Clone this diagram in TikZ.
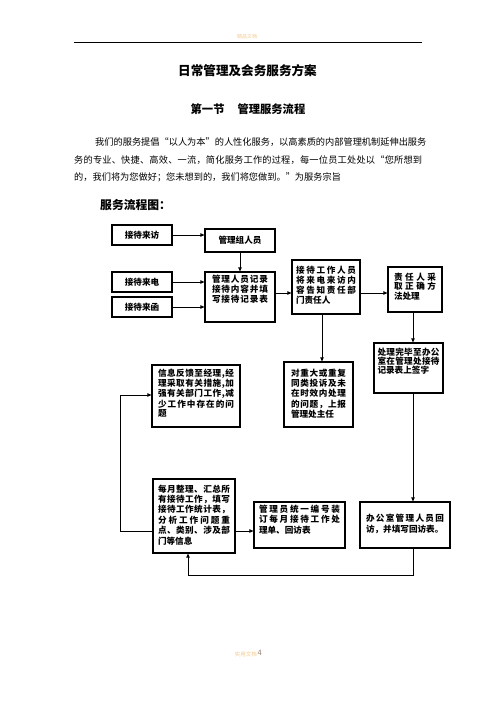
\documentclass[tikz,border=0pt]{standalone}
\usepackage{fontspec}
\setmainfont{Noto Sans CJK SC}
\usetikzlibrary{arrows.meta}
\definecolor{hdr}{RGB}{245,200,140}
\definecolor{pgnum}{RGB}{150,130,110}
\def\jlx#1{#1\futurelet\jlnext\jly}
\def\jly{\ifx\jlnext\relax\expandafter\jlz\else\hfill\expandafter\jlx\fi}
\def\jlz\relax{}
\newcommand{\jl}[1]{\makebox[\linewidth][s]{\jlx#1\relax}}
\newcommand{\jw}[2]{\makebox[#1][s]{\jlx#2\relax}}
\newcommand{\bxt}[5]{\parbox[c][#1][t]{#2}{\vspace*{#3}\fontsize{8.6pt}{#4}\selectfont #5}}
\tikzset{
  box/.style={draw, line width=1.2pt, inner sep=0pt, font=\bfseries\fontsize{8.6pt}{10pt}\selectfont, align=center},
  conn/.style={line width=0.8pt, -{Triangle[length=4pt,width=3.5pt]}},
  para/.style={inner sep=0pt, anchor=west, font=\fontsize{9.2pt}{11pt}\selectfont}
}
\begin{document}
\begin{tikzpicture}[x=1pt,y=-1pt]
\useasboundingbox (0,0) rectangle (496,702);
% header
\node[inner sep=0pt, font=\fontsize{5pt}{6pt}\selectfont, text=hdr] (hd) at (247,37) {精品文档};
\coordinate (hl1) at (74,42);
\coordinate (hl2) at (422,42);
\draw[line width=0.8pt] (hl1) -- (hl2);
% titles
\node[inner sep=0pt, font=\bfseries\fontsize{12.6pt}{14pt}\selectfont] (title) at (247.5,71) {日常管理及会务服务方案};
\node[inner sep=0pt, font=\bfseries\fontsize{11.3pt}{13pt}\selectfont] (sec) at (248,109) {第一节\hspace{13pt}管理服务流程};
% paragraph
\node[para] (p1) at (95,142) {\jw{327pt}{我们的服务提倡“以人为本”的人性化服务，以高素质的内部管理机制延伸出服务}};
\node[para] (p2) at (74,160) {\jw{348pt}{务的专业、快捷、高效、一流，简化服务工作的过程，每一位员工处处以“您所想到}};
\node[para] (p3) at (74,177) {的，我们将为您做好；您未想到的，我们将您做到。”为服务宗旨};
\node[inner sep=0pt, anchor=west, font=\bfseries\fontsize{11.8pt}{13pt}\selectfont] (fl) at (100,205) {服务流程图：};
% boxes
\node[box, minimum width=60pt, minimum height=20pt] (A) at (142,235) {接待来访};
\node[box, minimum width=70pt, minimum height=23pt] (B) at (240,240.5) {管理组人员};
\node[box, minimum width=60pt, minimum height=20pt] (C) at (142,282) {接待来电};
\node[box, minimum width=60pt, minimum height=20pt] (D) at (142,307) {接待来函};
\node[box, minimum width=70pt, minimum height=50pt] (E) at (240,297)
  {\bxt{50pt}{56pt}{2.7pt}{10pt}{\jl{管理人员记录}\\\jl{接待内容并填}\\\jl{写接待记录表}}};
\node[box, minimum width=68pt, minimum height=54pt] (F) at (326,287)
  {\bxt{54pt}{60pt}{5.7pt}{10pt}{\jl{接待工作人员}\\\jl{将来电来访内}\\\jl{容告知责任部}\\门责任人}};
\node[box, minimum width=54pt, minimum height=45pt] (G) at (415,289.5)
  {\bxt{45pt}{42pt}{5.7pt}{9.5pt}{\jl{责任人采}\\\jl{取正确方}\\法处理}};
\node[box, minimum width=69pt, minimum height=65pt] (H) at (318.5,394.5)
  {\bxt{65pt}{55pt}{6.7pt}{10.4pt}{\jl{对重大或重复}\\\jl{同类投诉及未}\\\jl{在时效内处理}\\\jl{的问题，上报}\\管理处主任}};
\node[box, minimum width=69pt, minimum height=50pt] (I) at (408.5,368)
  {\bxt{50pt}{62pt}{4.7pt}{9pt}{\jl{处理完毕至办公}\\\jl{室在管理处接待}\\记录表上签字}};
\node[box, minimum width=88pt, minimum height=62pt] (J) at (196,396)
  {\bxt{62pt}{76pt}{3.7pt}{9.3pt}{\jl{信息反馈至经理,经}\\\jl{理采取有关措施,加}\\\jl{强有关部门工作,减}\\\jl{少工作中存在的问}\\题}};
\node[box, minimum width=82pt, minimum height=74pt] (K) at (194,516)
  {\bxt{74pt}{72pt}{5.7pt}{10.4pt}{\jl{每月整理、汇总所}\\\jl{有接待工作，填写}\\\jl{接待工作统计表，}\\\jl{分析工作问题重}\\\jl{点、类别、涉及部}\\门等信息}};
\node[box, minimum width=91pt, minimum height=46pt] (L) at (299.5,525)
  {\bxt{46pt}{81pt}{2.7pt}{10.5pt}{\jl{管理员统一编号装}\\\jl{订每月接待工作处}\\理单、回访表}};
\node[box, minimum width=90pt, minimum height=46pt] (M) at (405,525)
  {\bxt{46pt}{78pt}{11.7pt}{11pt}{\jl{办公室管理人员回}\\访，并填写回访表。}};
% connectors
\coordinate (r1) at (0,293);
\coordinate (c1) at (322,0);
\coordinate (c2) at (413,0);
\coordinate (r2) at (0,531);
\coordinate (c3) at (120,0);
\coordinate (r3) at (0,395);
\coordinate (r4) at (0,575);
\coordinate (c4) at (188,0);
\draw[conn] (A.east) -- (A.east -| B.west);
\draw[conn] (B.south) -- (E.north);
\draw[conn] (C.east) -- (C.east -| E.west);
\draw[conn] (D.east) -- (D.east -| E.west);
\draw[conn] (E.east |- r1) -- (F.west |- r1);
\draw[conn] (F.east |- r1) -- (G.west |- r1);
\draw[conn] (F.south -| c1) -- (H.north -| c1);
\draw[conn] (G.south -| c2) -- (I.north -| c2);
\draw[conn] (I.south -| c2) -- (M.north -| c2);
\draw[conn] (K.east |- r2) -- (L.west |- r2);
\draw[conn] (K.west |- r2) -| (c3 |- r3) -- (J.west |- r3);
\draw[conn] (M.south -| c2) |- (c4 |- r4) -- (K.south -| c4);
% footer
\node[inner sep=0pt, anchor=east, font=\fontsize{5.5pt}{6pt}\selectfont, text=hdr] (ft) at (257,654) {实用文档};
\node[inner sep=0pt, anchor=west, font=\fontsize{7.5pt}{8pt}\selectfont, text=pgnum] (pg) at (257.5,653) {4};
\end{tikzpicture}
\end{document}
